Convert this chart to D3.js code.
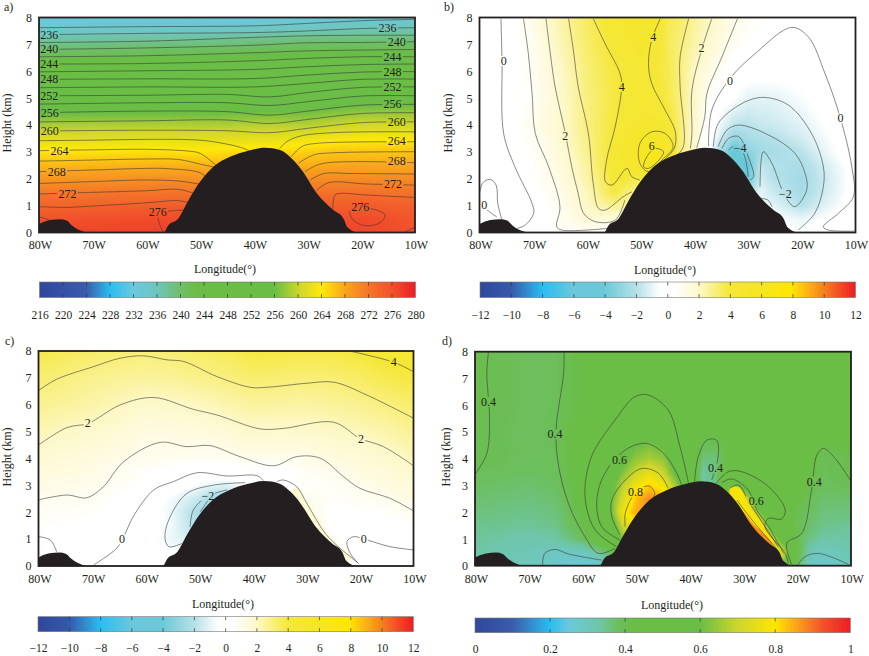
<!DOCTYPE html>
<html>
<head>
<meta charset="utf-8">
<style>
  body { margin: 0; background: #fff; }
  svg { display: block; }
  svg text { fill: #231f20; font-size: 12px; font-family: "Liberation Serif", serif; }
  .contour { fill: none; stroke: #3a3a3a; stroke-width: 0.6; }
  .domain { display: none; }
</style>
<script src="https://d3js.org/d3.v7.min.js"></script>
</head>
<body>
<svg id="fig" width="869" height="656"></svg>
<script>
// ---- shared data (lon in degrees W, height in km) ----
var lonTicks = [80, 70, 60, 50, 40, 30, 20, 10];
var heightTicks = [0, 1, 2, 3, 4, 5, 6, 7, 8];
var terrain = [[80,0.32],[77.95,0.47],[76.09,0.5],[74.85,0.45],[73.92,0.28],[71.74,0.04],[70.8,0],[56.85,0],[55.92,0.28],[54.05,0.53],[52.5,1.09],[50.02,1.89],[47.54,2.45],[44.43,2.82],[41.02,3.05],[37.91,3.16],[35.12,3.07],[32.95,2.76],[31.09,2.33],[28.29,1.47],[25.19,0.84],[23.33,0.53],[22.52,0.19],[20.53,0],[10,0]];
var gridHeights = [8, 7, 6, 5, 4, 3.5, 3, 2.5, 2, 1.5, 1, 0.5, 0];

// ---- panel a: temperature ----
var aTicks = d3.range(216, 281, 4);
var aLons = [80, 60, 50, 45, 40, 35, 30, 25, 20, 15, 10];
var aGrid = [
  [231.5,231.6,231.7,231.8,232,232.2,232.5,232.9,233.2,233.4,233.5],
  [238.5,239,239.3,239.5,239.8,240.1,240.4,240.5,240.5,240.6,240.7],
  [245.8,246.1,246.2,246.3,246.5,246.8,247.1,247.5,247.8,247.9,247.9],
  [252.6,252.7,252.8,252.9,252.9,253,253.3,253.8,254.4,254.6,254.6],
  [258.7,258.9,258.9,258.9,259.2,259.3,259.1,260,260.6,260.6,260.6],
  [261.6,261.8,261.8,261.8,262,262.2,262.6,263.2,263.6,263.6,263.6],
  [264.3,264.6,264.3,264.8,265,265,265.5,266.1,266.2,266.2,266.2],
  [266.8,267.2,267.2,267,267.5,267.5,267.5,267.8,267.8,267.8,267.8],
  [269.2,269.7,269.7,269.7,269.7,270,270,270.2,270.2,270.2,270.2],
  [271.7,272.2,272.2,272.2,272.2,272.5,272.5,272.5,272.5,272.4,272.4],
  [273.9,274.5,274.8,275,275,275,275,274.7,274.8,274.6,274.4],
  [275.8,276.5,276.5,276.5,276.5,276,276,276,276.6,276.3,275.4],
  [277,277.2,277.2,277,277,277,277,276.8,276.8,276.5,276.3]
];
var aContours = [
  {level:234, pts:[[80,7.62],[60,7.66],[40,7.69],[30,7.78],[20,7.88],[10,7.93]]},
  {level:236, pts:[[80,7.36],[60,7.41],[40,7.44],[30,7.5],[20,7.59],[10,7.62]]},
  {level:238, pts:[[80,7.07],[60,7.12],[40,7.26],[30,7.32],[20,7.34],[10,7.34]]},
  {level:240, pts:[[80,6.81],[60,6.87],[40,6.97],[30,7.06],[20,7.07],[10,7.1]]},
  {level:242, pts:[[80,6.54],[60,6.58],[40,6.69],[30,6.76],[20,6.79],[10,6.81]]},
  {level:244, pts:[[80,6.27],[60,6.29],[40,6.39],[30,6.48],[20,6.54],[10,6.54]]},
  {level:246, pts:[[80,5.98],[60,6.02],[40,6.07],[30,6.17],[20,6.25],[10,6.27]]},
  {level:248, pts:[[80,5.7],[60,5.72],[40,5.73],[30,5.86],[20,5.97],[10,5.99]]},
  {level:250, pts:[[80,5.39],[60,5.42],[40,5.42],[30,5.55],[20,5.7],[10,5.71]]},
  {level:252, pts:[[80,5.09],[60,5.11],[45,5.14],[37,5.05],[30,5.21],[20,5.4],[10,5.42]]},
  {level:254, pts:[[80,4.78],[60,4.83],[45,4.83],[37,4.73],[30,4.87],[20,5.08],[10,5.09]]},
  {level:256, pts:[[80,4.46],[60,4.52],[45,4.5],[37,4.37],[30,4.52],[20,4.74],[10,4.77]]},
  {level:258, pts:[[80,4.12],[60,4.16],[45,4.19],[37,4.06],[30,4.21],[20,4.43],[10,4.46]]},
  {level:260, pts:[[80,3.78],[60,3.81],[45,3.79],[37,3.72],[30,3.88],[20,4.09],[10,4.12]]},
  {level:262, pts:[[80,3.42],[70,3.44],[60,3.47],[50,3.44],[46,3.33],[43,3.2],[41,3.05],[40.5,2.9]]},
  {level:262, pts:[[35.2,3.13],[33.9,3.38],[31.4,3.59],[25.2,3.72],[10,3.75]]},
  {level:264, pts:[[80,3.05],[70,3.08],[60,3.1],[52,3.03],[50,2.95],[47,2.5]]},
  {level:264, pts:[[33,2.82],[31.1,3.2],[28.3,3.32],[10,3.38]]},
  {level:266, pts:[[80,2.66],[70,2.7],[60,2.74],[54,2.72],[50,2.55],[47,2.42]]},
  {level:266, pts:[[31.7,2.58],[28.9,2.89],[25.2,2.97],[10,3.01]]},
  {level:268, pts:[[80,2.27],[70,2.33],[60,2.39],[56,2.38],[50,2.23],[48.5,2]]},
  {level:268, pts:[[30.5,2.27],[27.7,2.55],[22.1,2.64],[10,2.6]]},
  {level:270, pts:[[80,1.83],[70,1.9],[60,1.96],[54,1.92],[50,1.8]]},
  {level:270, pts:[[29.5,1.96],[27,2.2],[22.1,2.2],[10,2.18]]},
  {level:272, pts:[[80,1.44],[70,1.5],[60,1.56],[54,1.61],[51,1.45]]},
  {level:272, pts:[[28.4,1.56],[26.1,1.86],[19,1.81],[10,1.77]]},
  {level:274, pts:[[80,0.97],[75,0.94],[70,0.99],[60,1.11],[54,1.19],[52,1.1]]},
  {level:274, pts:[[25.3,0.87],[24.9,1.4],[23.9,1.46],[19,1.4],[10,1.31]]},
  {level:276, pts:[[80,0.59],[78.5,0.5],[77.5,0.4]]},
  {level:276, pts:[[56.85,0.02],[57.6,0.35],[57.8,0.72],[56,0.8],[53.1,0.84],[52,0.85]]},
  {level:276, closed:true, pts:[[22.1,0.82],[18.4,0.9],[15.6,0.66],[16.5,0.37],[19.3,0.26],[21.5,0.47]]},
  {level:276, pts:[[11.8,0.04],[10,0.2]]}
];
var aLabels = [
  ["236",78.1,7.36],["240",78.1,6.81],["244",78.1,6.27],["248",78.1,5.7],["252",78.1,5.09],["256",78,4.46],["260",78,3.78],
  ["264",76.2,3.05],["268",76.7,2.27],["272",74.7,1.44],["276",57.9,0.76],["276",20.2,0.94],
  ["236",15.1,7.62],["240",13.4,7.1],["244",14.2,6.54],["248",14.2,5.99],["252",14.2,5.42],["256",14.2,4.77],
  ["260",13.4,4.12],["264",13.4,3.42],["268",13.4,2.65],["272",14.1,1.81]
];

// ---- panel b ----
var anomalyTicks = d3.range(-12, 13, 2);
var bLons = [80,75,70,65,60,55,50,47.5,45,42.5,40,35,32.5,30,27.5,25,20,15,10];
var bGrid = [
  [-0.3,0.2,1.2,2.4,3.4,4.4,4.9,4.9,3.7,3.3,2.7,1.6,1.1,0.8,0.6,0.5,0.3,0.2,0.2],
  [-0.3,0.1,0.9,2.2,3.3,4.1,4.7,4.3,3.6,3.05,2.45,1.3,0.9,0.5,0.3,0.1,-0.1,0.2,0.3],
  [-0.3,0.1,0.8,1.9,3.1,3.9,4.4,4.1,3.7,3,2,0.7,-0.1,-0.2,-0.2,-0.2,-0.2,0.1,0.2],
  [-0.2,0.1,0.7,1.8,3,3.85,4.5,4.2,3.8,3,1.9,-0.2,-0.5,-1,-1.05,-1,-0.6,-0.1,0.2],
  [-0.1,0.1,1,1.8,3,3.95,4.6,4.7,4.4,3.1,1.9,-0.9,-1.8,-1.9,-1.6,-1.5,-1.1,-0.4,0.2],
  [0,0.05,0.8,1.7,2.9,4.1,5.3,5.4,5,3.1,1.8,-1.5,-3,-2.4,-2.2,-2,-1.4,-0.6,0.1],
  [0,0.1,0.7,1.5,2.8,4.2,5.4,6.2,5.2,3,2,-2.5,-4.5,-3.2,-2.5,-2.4,-1.9,-0.8,0.05],
  [0,0.2,0.6,1.4,2.6,4.3,5,6.3,5,3,2,-3,-4.5,-4.3,-1.7,-2.1,-2.3,-1.2,-0.1],
  [-0.2,0.2,0.5,1.3,2.4,4.1,3.8,4,4,3,2,-3,-4,-4,-1.4,-2,-2.5,-1.4,-0.15],
  [-0.1,-0.1,0.4,1.1,2.1,3.9,2.5,3,3,3,2,-2,-3,-2,-1,-1.6,-2.4,-1.3,-0.1],
  [-0.2,-0.2,0.05,0.9,2,2.8,2,2,2,2,2,-1,-1,-1,-1,-1,-2,-1,-0.05],
  [-0.1,-0.1,0,0.8,1.6,1.5,1,1,1,1,1,-0.5,-0.5,-0.5,-0.5,-0.5,-0.9,-0.4,0.1],
  [0,0,0,0.7,0.7,0.2,0.3,0.3,0.3,0.3,0.3,0,0,0,0,0,-0.5,0.1,0.1]
];
var bContours = [
  {level:0, pts:[[76,7.96],[75.8,6.41],[75.5,3.69],[73.4,2.45],[70.2,1.09],[69.9,0.72],[71.5,0.28],[73,0.16]]},
  {level:0, pts:[[80,1.49],[79.3,1.87],[78,1.98],[76.9,1.77],[76.6,1.09],[75.8,0.47]]},
  {level:0, pts:[[80,1.21],[78.9,0.9],[76.8,0.59]]},
  {level:1, pts:[[71.8,7.96],[70.9,6.66],[70.2,5.18],[69.6,3.69],[67.1,2.45],[65,0.97],[65.6,0.22],[64.7,0.1],[56,0.16]]},
  {level:2, pts:[[67.6,7.96],[66.8,6.66],[65.9,5.42],[64,3.69],[62.8,2.45],[61.6,1.46],[60.6,0.72],[58.4,0.41],[54.7,0.47],[52.9,1.21]]},
  {level:3, pts:[[63.4,7.96],[62.5,6.79],[61.6,5.42],[59.7,3.69],[58.8,1.83],[57.8,0.9],[56.6,0.84],[53.2,1.34],[51.6,1.52]]},
  {level:4, pts:[[58.8,7.96],[56.6,7.03],[53.8,5.92],[53.5,5.42],[54.7,3.94],[56.3,2.7],[56.5,1.89],[55.3,1.77],[52.5,2.39],[51.6,2.08],[50.1,1.96]]},
  {level:4, pts:[[46.3,7.96],[47.9,7.16],[48.5,6.29],[47.9,5.55],[45.4,4.56],[43.5,3.75],[43.7,3.13],[46,2.64]]},
  {level:5, closed:true, pts:[[47.9,3.75],[45.4,3.69],[43.9,3.2],[46,2.7],[48.5,2.27],[50.1,2.58],[50.1,3.32]]},
  {level:6, closed:true, pts:[[47.3,3.13],[45.7,3.01],[46.3,2.76],[48.5,2.39],[49.4,2.45],[48.8,2.82]]},
  {level:3, pts:[[41,7.96],[42.6,6.54],[42.6,5.42],[42,3.2],[43.5,2.82]]},
  {level:2, pts:[[36.7,7.96],[38.6,6.79],[40.4,5.3],[40.4,3.69],[40.7,3.13]]},
  {level:1, pts:[[31.9,7.96],[34.8,6.54],[37.6,5.18],[38,4.31],[39.5,3.16]]},
  {level:0, pts:[[37.3,3.2],[36.7,4.56],[33.3,5.73],[28.6,6.66],[21.8,7.63],[18.7,7.28],[15.6,5.92],[12.8,4.31],[10.6,2.45],[10.3,1.34],[13.1,0.72],[15.9,0.22],[15,0.1],[10.1,0.06]]},
  {level:-1, pts:[[36.4,3.2],[35.5,4.06],[31.1,4.8],[27.1,5.03],[22.4,4.74],[18.1,3.69],[15.9,2.45],[15.9,1.71],[17.5,0.72],[20.6,0.1]]},
  {level:-2, pts:[[35.5,3.2],[33.9,3.81],[31.7,4],[26.1,3.63],[21.2,2.95],[19.3,2.2],[19,1.59],[21.2,0.97],[23,1.34],[25.5,2.58],[27.1,3.01],[27.7,1.71]]},
  {level:-3, pts:[[34.8,3.13],[33.6,3.5],[31.7,3.57],[29.9,2.82],[28.9,2.08],[29.6,1.96]]},
  {level:-4, pts:[[33.6,3.07],[32.4,3.23],[30.8,2.95],[29.9,2.08]]},
  {level:0, pts:[[27.7,1.28],[26.2,1.21],[25.5,0.97]]}
];
var bLabels = [["0",75.5,6.38],["0",79.1,1.03],["2",64,3.6],["2",38.6,6.85],["4",47.6,7.28],["4",53.5,5.42],["6",47.9,3.22],["\u22124",31.4,3.13],["\u22122",23,1.44],["0",33.3,5.65],["0",12.7,4.25]];

// ---- panel c ----
var cLons = [80,70,60,55,50,47.5,45,42.5,40,35,32.5,30,27.5,25,22.5,20,15,10];
var cGrid = [
  [3.75,3.35,3.1,3.2,3.4,3.45,3.55,3.7,3.9,3.85,3.8,3.8,3.8,3.85,3.9,4,4.3,4.5],
  [3.25,2.8,2.6,2.7,2.85,2.95,3.05,3.15,3.25,3.2,3.15,3.15,3.15,3.2,3.3,3.4,3.7,3.9],
  [2.75,2.45,1.85,1.95,2.1,2.2,2.35,2.45,2.55,2.55,2.5,2.5,2.55,2.65,2.7,2.8,3,3.3],
  [2.25,1.85,1.3,1.35,1.4,1.5,1.6,1.8,1.9,1.8,1.85,1.85,1.95,2,2.1,2.15,2.4,2.75],
  [1.7,1.35,0.95,0.9,0.8,0.8,0.85,0.95,1.03,1,1,1.05,1.2,1.35,1.45,1.55,1.8,2.15],
  [1.45,1.2,0.6,0.3,0,0.05,0.1,0.15,0.2,0.3,0.5,0.8,0.85,0.95,1.1,1.3,1.5,1.85],
  [1.2,0.95,0.5,0,-0.7,-1,-1.1,-0.8,-0.2,0.3,0.5,0.6,0.65,0.7,0.85,1,1.3,1.6],
  [0.97,0.8,0.05,-0.7,-1.7,-2.5,-2.6,-2,-1,0.5,0.9,1,0.8,0.6,0.7,0.8,0.95,1.3],
  [0.75,0.6,0,-0.9,-2.3,-2.6,-2.6,-2,-1,0.8,1.2,1.5,0.8,0.4,0.45,0.5,0.6,0.9],
  [0.6,0.45,-0.1,-0.8,-2.3,-2.5,-2.5,-2,-1,1,1.2,1.5,1.2,0.3,0.2,0.2,0.3,0.55],
  [0.1,0.2,-0.2,-0.9,-1.5,-1.5,-1.5,-1,-0.5,1,1.2,1.5,1.5,0.9,0.3,-0.1,0.1,0.25],
  [0,0.1,-0.2,-0.5,-1,-1,-1,-0.5,0,1,1.2,1.5,1.5,1,1,-0.1,-0.1,-0.1],
  [0,0,-0.2,-0.3,-0.5,-0.5,-0.5,0,0,1,1,1,1,1,1,0,-0.1,-0.1]
];
var cContours = [
  {level:4, pts:[[21.5,7.98],[13.7,7.58],[10,7.23]]},
  {level:3, pts:[[80,6.53],[76.6,6.95],[69.7,7.42],[64.8,7.73],[60.4,7.82],[56,7.67],[52.9,7.61],[46.7,7.05],[40.5,6.65],[37.4,6.65],[29.9,6.8],[24.9,6.84],[18.7,6.36],[10,5.5]]},
  {level:2, pts:[[80,4.5],[74.7,5.15],[70.7,5.31],[64.8,5.99],[58.5,6.27],[51.1,5.83],[46.7,5.62],[38.6,5.1],[34.3,5.12],[24.9,5.35],[20,4.75],[15.6,4.44],[10,3.73]]},
  {level:1, pts:[[80,2.46],[74.7,2.64],[71,2.54],[67.9,2.95],[64.1,3.88],[57.3,4.6],[52.3,4.44],[48,4.48],[42.4,4.07],[36.1,3.73],[31.8,4.07],[27.4,4.01],[23.1,3.33],[20,2.89],[14.4,2.52],[10,2.05]]},
  {level:0, pts:[[69.7,0.04],[65.4,0.66],[64.1,1.09],[62.3,1.84],[58.5,2.83],[54.8,3.14],[50.4,3.47],[44.8,3.35],[39.2,3.36],[38,3.18]]},
  {level:0, pts:[[80,1.09],[77.8,0.97],[76.6,0.53]]},
  {level:-1, pts:[[41.4,3.1],[47.3,3.01],[52.3,2.7],[55.4,1.84],[56.4,1.09],[55.7,0.72],[53.2,0.84]]},
  {level:-2, pts:[[44.8,2.83],[48.6,2.58],[51.1,2.08],[51.7,1.46]]},
  {level:-2, pts:[[49.8,2.02],[48.3,2.46]]},
  {level:0, pts:[[35.5,3.14],[34.3,3.2],[31.8,2.95],[29.9,2.33],[26.5,1.22],[23.7,0.66],[21.5,0.3],[20.3,0.1]]},
  {level:0, pts:[[20.3,0.1],[21.8,0.47],[22.4,0.91],[21.2,1.09],[18.7,0.97],[14.4,0.72],[10,0.6]]}
];
var cLabels = [["4",13.7,7.58],["2",70.8,5.33],["2",19.8,4.71],["0",64.4,0.99],["0",19.3,0.99],["\u22122",48.4,2.61]];
var cBands = [
  {level:1.7, pts:[[31.8,2.95],[29.9,2.33],[26.5,1.22],[23.7,0.66],[21.5,0.3],[23,0.3],[30,1.5],[33,2.6]]}
];

// ---- panel d ----
var dTicks = [0, 0.2, 0.4, 0.6, 0.8, 1];
var dLons = [80,70,65,60,55,52.5,50,47.5,45,42.5,40,37.5,35,32.5,30,27.5,25,22.5,20,17.5,15,10];
var dGrid = [
  [0.41,0.385,0.39,0.42,0.44,0.45,0.45,0.46,0.46,0.46,0.46,0.46,0.46,0.46,0.46,0.46,0.46,0.46,0.46,0.46,0.46,0.46],
  [0.41,0.385,0.39,0.42,0.44,0.45,0.46,0.46,0.46,0.46,0.46,0.46,0.46,0.46,0.46,0.46,0.46,0.46,0.46,0.46,0.46,0.46],
  [0.41,0.385,0.39,0.42,0.45,0.49,0.51,0.52,0.505,0.48,0.46,0.46,0.46,0.46,0.46,0.46,0.46,0.46,0.46,0.46,0.45,0.45],
  [0.4,0.385,0.395,0.43,0.5,0.53,0.555,0.57,0.55,0.51,0.47,0.42,0.42,0.45,0.46,0.46,0.46,0.46,0.45,0.44,0.43,0.43],
  [0.405,0.385,0.39,0.44,0.52,0.58,0.64,0.665,0.64,0.56,0.5,0.36,0.36,0.42,0.46,0.47,0.47,0.46,0.45,0.43,0.39,0.41],
  [0.39,0.38,0.385,0.44,0.53,0.62,0.7,0.75,0.7,0.58,0.5,0.33,0.37,0.48,0.48,0.47,0.47,0.46,0.45,0.42,0.39,0.41],
  [0.38,0.37,0.38,0.44,0.55,0.68,0.77,0.82,0.78,0.65,0.5,0.33,0.36,0.6,0.56,0.49,0.48,0.47,0.44,0.41,0.385,0.395],
  [0.37,0.36,0.37,0.43,0.58,0.72,0.83,0.88,0.85,0.7,0.5,0.4,0.5,0.75,0.75,0.53,0.5,0.47,0.42,0.39,0.37,0.37],
  [0.36,0.35,0.36,0.42,0.57,0.77,0.85,0.87,0.85,0.7,0.5,0.4,0.5,0.8,0.85,0.65,0.52,0.47,0.4,0.38,0.36,0.36],
  [0.35,0.34,0.35,0.41,0.52,0.7,0.8,0.85,0.8,0.7,0.5,0.4,0.5,0.8,0.85,0.8,0.58,0.44,0.4,0.37,0.35,0.34],
  [0.34,0.32,0.33,0.38,0.49,0.62,0.7,0.7,0.7,0.6,0.5,0.4,0.5,0.7,0.8,0.85,0.72,0.55,0.4,0.35,0.33,0.33],
  [0.33,0.31,0.29,0.29,0.38,0.5,0.6,0.6,0.6,0.5,0.5,0.4,0.5,0.7,0.8,0.85,0.85,0.7,0.42,0.31,0.29,0.32],
  [0.32,0.3,0.27,0.25,0.27,0.3,0.4,0.4,0.4,0.4,0.4,0.4,0.4,0.5,0.6,0.7,0.8,0.6,0.38,0.29,0.27,0.3]
];
var dContours = [
  {level:0.4, pts:[[77.5,7.97],[77.8,7.19],[77.3,5.57],[77.8,4.2],[80,3.42]]},
  {level:0.4, pts:[[63.4,7.97],[63.5,7.19],[64.9,5.07],[64.5,3.83],[62.6,2.34],[59.5,1.09],[57,0.47],[53.9,0.66]]},
  {level:0.5, pts:[[53.6,0.72],[57.6,1.34],[59.5,2.59],[58.3,4.08],[53.9,5.45],[50.2,6.32],[47.7,6.38],[44,5.82],[41.8,4.45],[40.2,3.08]]},
  {level:0.6, pts:[[53,0.97],[56.4,1.47],[57.3,2.46],[55.8,3.46],[52,4.33],[48.3,4.58],[45.2,4.27],[42.7,3.58],[41.5,3.02]]},
  {level:0.7, pts:[[53,1.16],[54.5,1.84],[54.5,2.46],[52,3.21],[48.9,3.64],[45.8,3.46],[44,2.9]]},
  {level:0.8, pts:[[52,1.47],[52,1.97],[50.2,2.71],[47.7,2.99],[46.5,2.71],[47.4,2.4]]},
  {level:0.4, pts:[[39.1,3.15],[38.4,4.08],[36.8,4.7],[35,4.7],[34.7,4.08],[35.9,3.21]]},
  {level:0.5, pts:[[35.1,3.08],[32.8,3.52],[30.3,3.52],[25.3,2.96],[22.2,2.09],[22.9,1.75],[25.3,1.78],[26,1.47],[22.2,0.47],[21.6,0.1]]},
  {level:0.4, pts:[[21,0.06],[21.9,0.85],[19.1,1.22],[17.3,2.84],[16.3,4.14],[15.1,4.39],[12.9,4.02],[10.1,3.21]]},
  {level:0.6, pts:[[34,3.11],[32.2,3.25],[29.1,2.84],[27.5,2.09],[25.3,1.47],[22.5,0.47]]},
  {level:0.7, pts:[[32.5,2.9],[30.9,3.02],[28.8,2.34],[23.5,0.72]]},
  {level:0.8, pts:[[31.2,2.46],[28.4,1.72],[24.1,0.72]]},
  {level:0.3, pts:[[67.4,0.04],[67,0.47],[65.1,0.62],[62.6,0.45],[56.4,0.22]]},
  {level:0.3, pts:[[19.9,0.04],[18.5,0.35],[16,0.47],[10.4,0.06]]}
];
var dLabels = [["0.4",77.5,6.13],["0.4",65.1,4.91],["0.4",35.2,3.64],["0.4",16.8,3.15],["0.6",53.1,3.96],["0.6",27.6,2.44],["0.8",50.1,2.76]];
var dBands = [
  {level:0.78, pts:[[32.5,2.9],[30.9,2.95],[29,2.3],[24.2,0.8],[24.5,0.5],[30,1.6]]},
  {level:0.88, pts:[[31.2,2.3],[28.6,1.66],[24.6,0.8],[25,0.6],[28.5,1.3],[31,2]]}
];

// ---- colour maps, positions as a fraction of the colour bar ----
var tempStops = [[0,"#30479b"],[0.125,"#3a5cab"],[0.1875,"#2bbdf0"],[0.25,"#6bc8dc"],[0.31,"#6fc6c0"],[0.375,"#6fbf6a"],[0.42,"#6abd45"],[0.625,"#6abd45"],[0.69,"#cdd62d"],[0.75,"#ffe90a"],[0.8125,"#f9a51c"],[0.875,"#f4762a"],[0.94,"#f1502b"],[1,"#ed1c24"]];
var anomStops = [[0,"#30479b"],[0.083,"#3559ab"],[0.167,"#2bbdf0"],[0.25,"#6bc8dc"],[0.33,"#6bc8d8"],[0.42,"#b8e2ea"],[0.48,"#ffffff"],[0.52,"#ffffff"],[0.583,"#fdf8c8"],[0.667,"#f5e738"],[0.75,"#f5e620"],[0.83,"#ffe600"],[0.875,"#fbb016"],[0.92,"#f47b20"],[1,"#ed1c24"]];
var fracStops = [[0,"#30479b"],[0.1,"#3a5cab"],[0.2,"#2bbdf0"],[0.25,"#6bc8dc"],[0.33,"#6fc6a8"],[0.38,"#6cbf60"],[0.42,"#6abd45"],[0.6,"#6abd45"],[0.7,"#cdd62d"],[0.8,"#ffe600"],[0.87,"#f9941e"],[0.93,"#f1502b"],[1,"#ed1c24"]];

var svg = d3.select("#fig");
var fmtMinus = function(d) { return String(d).replace("-", "\u2212"); };

function cellIndex(arr, v) {
  // arr is descending
  for (var i = 0; i < arr.length - 2; i++) if (v >= arr[i + 1]) return i;
  return arr.length - 2;
}

function drawPanel(p) {
  var g = svg.append("g");
  var x = d3.scaleLinear().domain([80, 10]).range([p.left, p.right]);
  var y = d3.scaleLinear().domain([0, 8]).range([p.bottom, p.top]);
  var lo = d3.min(p.ticks), hi = d3.max(p.ticks);
  var color = d3.scaleLinear()
    .domain(p.stops.map(function(s) { return lo + s[0] * (hi - lo); }))
    .range(p.stops.map(function(s) { return s[1]; }))
    .clamp(true);

  // shaded field, one canvas pixel per screen pixel
  var w = Math.round(p.right - p.left), h = Math.round(p.bottom - p.top);
  var canvas = document.createElement("canvas");
  canvas.width = w; canvas.height = h;
  var ctx = canvas.getContext("2d");
  for (var py = 0; py < h; py++) {
    var hv = y.invert(p.top + py + 0.5);
    var r = cellIndex(gridHeights, hv);
    var tr = (gridHeights[r] - hv) / (gridHeights[r] - gridHeights[r + 1]);
    for (var px = 0; px < w; px++) {
      var lv = x.invert(p.left + px + 0.5);
      var c = cellIndex(p.lons, lv);
      var tc = (p.lons[c] - lv) / (p.lons[c] - p.lons[c + 1]);
      var v = (1 - tr) * ((1 - tc) * p.grid[r][c] + tc * p.grid[r][c + 1]) +
              tr * ((1 - tc) * p.grid[r + 1][c] + tc * p.grid[r + 1][c + 1]);
      ctx.fillStyle = color(v);
      ctx.fillRect(px, py, 1, 1);
    }
  }
  g.append("image").attr("x", p.left).attr("y", p.top).attr("width", w).attr("height", h)
    .attr("href", canvas.toDataURL());

  var clipId = "clip" + p.name, maskId = "mask" + p.name;
  g.append("clipPath").attr("id", clipId).append("rect")
    .attr("x", p.left).attr("y", p.top).attr("width", w).attr("height", h);

  var lineOpen = d3.line().x(function(d) { return x(d[0]); }).y(function(d) { return y(d[1]); })
    .curve(d3.curveCatmullRom.alpha(0.5));
  var lineClosed = d3.line().x(function(d) { return x(d[0]); }).y(function(d) { return y(d[1]); })
    .curve(d3.curveCatmullRomClosed.alpha(0.5));

  // narrow strips along the slope that the grid is too coarse for
  g.append("g").attr("clip-path", "url(#" + clipId + ")").selectAll("path")
    .data(p.bands || []).join("path")
    .attr("d", function(d) { return lineClosed(d.pts); })
    .attr("fill", function(d) { return color(d.level); });

  // contour lines are broken where a label sits
  var mask = g.append("mask").attr("id", maskId).attr("maskUnits", "userSpaceOnUse")
    .attr("x", 0).attr("y", 0).attr("width", 869).attr("height", 656);
  mask.append("rect").attr("width", 869).attr("height", 656).attr("fill", "#fff");
  mask.selectAll("rect.gap").data(p.labels).join("rect").attr("class", "gap")
    .attr("x", function(d) { return x(d[1]) - d[0].length * 3.1 - 1; })
    .attr("y", function(d) { return y(d[2]) - 5; })
    .attr("width", function(d) { return d[0].length * 6.2 + 2; })
    .attr("height", 10).attr("fill", "#000");

  g.append("g").attr("clip-path", "url(#" + clipId + ")").append("g").attr("mask", "url(#" + maskId + ")")
    .selectAll("path").data(p.contours).join("path")
    .attr("class", "contour")
    .attr("d", function(d) { return d.closed ? lineClosed(d.pts) : lineOpen(d.pts); });

  g.append("g").selectAll("text").data(p.labels).join("text")
    .attr("x", function(d) { return x(d[1]); })
    .attr("y", function(d) { return y(d[2]); })
    .attr("dy", "0.33em").attr("text-anchor", "middle")
    .text(function(d) { return d[0]; });

  var area = d3.area().x(function(d) { return x(d[0]); }).y0(p.bottom)
    .y1(function(d) { return y(d[1]); }).curve(d3.curveMonotoneX);
  g.append("path").datum(terrain).attr("d", area).attr("fill", "#231f20")
    .attr("clip-path", "url(#" + clipId + ")");

  g.append("rect").attr("x", p.left).attr("y", p.top).attr("width", w).attr("height", h)
    .attr("fill", "none").attr("stroke", "#231f20").attr("stroke-width", 1.8);

  // axes
  var xAxis = d3.axisBottom(x).tickValues(lonTicks).tickSize(0).tickPadding(8)
    .tickFormat(function(d) { return d + "W"; });
  g.append("g").attr("transform", "translate(1," + p.bottom + ")").call(xAxis);
  var yAxis = d3.axisLeft(y).tickValues(heightTicks).tickSize(0).tickPadding(7);
  g.append("g").attr("transform", "translate(" + p.left + ",0)").call(yAxis);

  g.append("text").attr("x", p.xTitle[0]).attr("y", p.xTitle[1]).attr("dy", "0.33em")
    .attr("text-anchor", "middle").text("Longitude(\u00b0)");
  g.append("text").attr("transform", "translate(" + p.yTitle[0] + "," + p.yTitle[1] + ") rotate(-90)")
    .attr("dy", "0.33em").attr("text-anchor", "middle").text("Height (km)");
  g.append("text").attr("x", p.tag[0]).attr("y", p.tag[1]).attr("dy", "0.33em").text(p.name + ")");

  // colour bar
  var bar = d3.scaleLinear().domain([lo, hi]).range([p.bar[0], p.bar[1]]);
  var gradId = "grad" + p.name;
  var grad = g.append("linearGradient").attr("id", gradId);
  grad.selectAll("stop").data(p.stops).join("stop")
    .attr("offset", function(s) { return s[0]; })
    .attr("stop-color", function(s) { return s[1]; });
  g.append("rect").attr("x", p.bar[0]).attr("y", p.bar[2])
    .attr("width", p.bar[1] - p.bar[0]).attr("height", p.bar[3] - p.bar[2])
    .attr("fill", "url(#" + gradId + ")").attr("stroke", "#777").attr("stroke-width", 0.6);
  var inner = p.ticks.slice(1, -1);
  g.append("g").selectAll("path").data(inner).join("path")
    .attr("d", function(d) {
      var bx = bar(d);
      return "M" + bx + "," + p.bar[2] + "v3.5M" + bx + "," + p.bar[3] + "v-3.5";
    })
    .attr("stroke", "#333").attr("stroke-width", 0.7);
  var barAxis = d3.axisBottom(bar).tickValues(p.ticks).tickSize(0).tickPadding(p.barPad).tickFormat(fmtMinus);
  var bg = g.append("g").attr("transform", "translate(0," + p.bar[3] + ")").call(barAxis);
  bg.selectAll("text").style("font-size", "11.5px");
}

drawPanel({ name: "a", left: 39, right: 415, top: 17.5, bottom: 232.7, ticks: aTicks, stops: tempStops,
  lons: aLons, grid: aGrid, contours: aContours, labels: aLabels,
  xTitle: [225, 269], yTitle: [7.5, 123], tag: [4, 7], bar: [39.5, 415.5, 282, 297.6], barPad: 13 });
drawPanel({ name: "b", left: 479.5, right: 855, top: 17.5, bottom: 232.7, ticks: anomalyTicks, stops: anomStops,
  lons: bLons, grid: bGrid, contours: bContours, labels: bLabels,
  xTitle: [665, 270], yTitle: [448, 123], tag: [444, 7], bar: [480, 855.5, 282, 297.6], barPad: 13 });
drawPanel({ name: "c", left: 38.5, right: 413.5, top: 351, bottom: 566, ticks: anomalyTicks, stops: anomStops,
  lons: cLons, grid: cGrid, contours: cContours, labels: cLabels, bands: cBands,
  xTitle: [223, 604], yTitle: [7.5, 457], tag: [5, 341], bar: [38, 413.3, 616.7, 631.7], barPad: 12.5 });
drawPanel({ name: "d", left: 475, right: 850.7, top: 351.7, bottom: 566, ticks: dTicks, stops: fracStops,
  lons: dLons, grid: dGrid, contours: dContours, labels: dLabels, bands: dBands,
  xTitle: [672, 605], yTitle: [446, 457], tag: [442, 341], bar: [475, 850.3, 618, 632.7], barPad: 12 });
</script>
</body>
</html>
